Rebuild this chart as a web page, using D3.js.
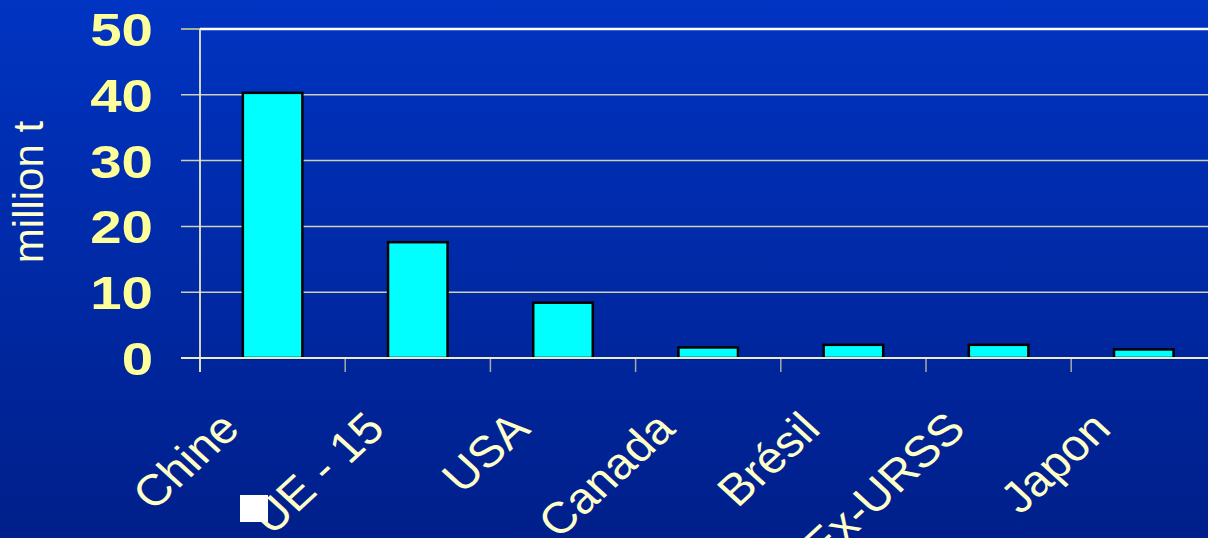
<!DOCTYPE html>
<html>
<head>
<meta charset="utf-8">
<script src="https://cdn.jsdelivr.net/npm/d3@7"></script>
<style>
  html, body { margin: 0; padding: 0; background: #0028a8; }
  svg { display: block; }
</style>
</head>
<body>
<svg id="chart" width="1208" height="538"></svg>
<script>
// Production by region, million tonnes
const categories = ["Chine", "UE - 15", "USA", "Canada", "Brésil", "Ex-URSS", "Japon"];
const values = [40.3, 17.6, 8.4, 1.6, 2.0, 2.0, 1.3];
const yTicks = [0, 10, 20, 30, 40, 50];
const yTitle = "million t";

const W = 1208, H = 538;
const svg = d3.select("#chart");

// background gradient
const defs = svg.append("defs");
const grad = defs.append("linearGradient").attr("id", "bg").attr("x1", 0).attr("y1", 0).attr("x2", 0).attr("y2", 1);
grad.append("stop").attr("offset", "0%").attr("stop-color", "#0034c2");
grad.append("stop").attr("offset", "100%").attr("stop-color", "#001f8a");
svg.append("rect").attr("width", W).attr("height", H).attr("fill", "url(#bg)");

const x0 = 200, step = 145.2;
const x = d3.scaleBand().domain(categories).range([x0, x0 + step * categories.length]).padding(0);
const y = d3.scaleLinear().domain([0, 50]).range([358, 29]);
const barW = x.bandwidth() * 0.41;

// horizontal gridlines with left tick marks
svg.append("g").selectAll("line").data(yTicks.filter(d => d > 0 && d < 50)).join("line")
  .attr("x1", 181).attr("x2", W)
  .attr("y1", d => y(d)).attr("y2", d => y(d))
  .attr("stroke", "#cfcfb8").attr("stroke-width", 1.5);

// top frame line
svg.append("line").attr("x1", 181).attr("x2", x0).attr("y1", y(50)).attr("y2", y(50))
  .attr("stroke", "#d8d890").attr("stroke-width", 1.5);
svg.append("line").attr("x1", x0).attr("x2", W).attr("y1", y(50)).attr("y2", y(50))
  .attr("stroke", "#ffffff").attr("stroke-width", 2.5);

// x tick marks at category boundaries
svg.append("g").selectAll("line").data(categories).join("line")
  .attr("x1", d => x(d)).attr("x2", d => x(d))
  .attr("y1", y(0)).attr("y2", y(0) + 14)
  .attr("stroke", "#a8a8a8").attr("stroke-width", 1.5);

// bars
svg.append("g").selectAll("rect").data(categories).join("rect")
  .attr("x", d => x(d) + x.bandwidth() / 2 - barW / 2)
  .attr("width", barW)
  .attr("y", (d, i) => y(values[i]))
  .attr("height", (d, i) => y(0) - y(values[i]))
  .attr("fill", "#00ffff")
  .attr("stroke", "#000000")
  .attr("stroke-width", 2.5);

// axes lines
svg.append("line").attr("x1", x0).attr("x2", x0).attr("y1", y(50)).attr("y2", y(0) + 14)
  .attr("stroke", "#e8e8c8").attr("stroke-width", 1.8);
svg.append("line").attr("x1", 181).attr("x2", W).attr("y1", y(0)).attr("y2", y(0))
  .attr("stroke", "#ecebd0").attr("stroke-width", 2.2);

// y tick labels (wide bold digits)
svg.append("g").selectAll("text").data(yTicks).join("text")
  .attr("transform", d => `translate(153,${y(d)}) scale(1.2,1)`)
  .attr("dy", "0.36em")
  .attr("text-anchor", "end")
  .attr("font-family", "Liberation Sans, Arial, sans-serif")
  .attr("font-weight", "bold")
  .attr("font-size", 47)
  .attr("fill", "#ffff99")
  .text(d => d);

// y axis title
svg.append("text")
  .attr("transform", "translate(43,192) rotate(-90)")
  .attr("text-anchor", "middle")
  .attr("font-family", "Liberation Sans, Arial, sans-serif")
  .attr("font-size", 42)
  .attr("fill", "#ffffcc")
  .text(yTitle);

// category labels, rotated
svg.append("g").selectAll("text").data(categories).join("text")
  .attr("transform", d => `translate(${x(d) + x.bandwidth() / 2 - 31},431) scale(1.09,1) rotate(-45)`)
  .attr("text-anchor", "end")
  .attr("font-family", "Liberation Sans, Arial, sans-serif")
  .attr("font-size", 44)
  .attr("fill", "#ffffc8")
  .text(d => d);

// small white square
svg.append("rect").attr("x", 240).attr("y", 495).attr("width", 28).attr("height", 27).attr("fill", "#ffffff");
</script>
</body>
</html>
